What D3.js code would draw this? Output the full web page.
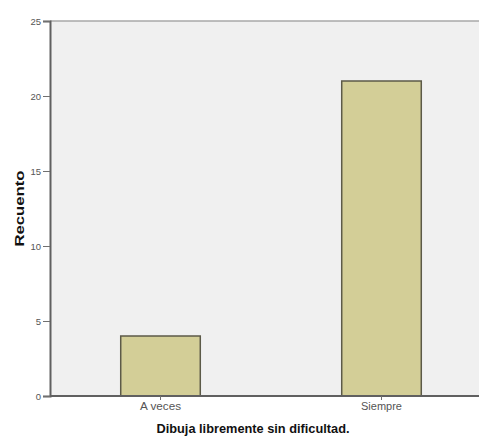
<!DOCTYPE html>
<html><head><meta charset="utf-8">
<script src="https://cdn.jsdelivr.net/npm/d3@7"></script>
<style>body{margin:0;background:#fff}svg{display:block}</style>
</head><body>
<script>
const categories = ["A veces", "Siempre"];
const counts = [4, 21];
const yTicks = [0, 5, 10, 15, 20, 25];
const xTitle = "Dibuja libremente sin dificultad.";
const yTitle = "Recuento";

const W = 479, H = 437;
const mLeft = 50, mTop = 21, mBottom = 396, mRight = 479;
const svg = d3.select("body").append("svg").attr("width", W).attr("height", H);

const y = d3.scaleLinear().domain([0, 25]).range([mBottom, mTop]);
const x = d3.scaleBand().domain(categories).range([mLeft, 492]).paddingInner(0.64).paddingOuter(0.32);

svg.append("rect").attr("x", mLeft).attr("y", mTop).attr("width", mRight - mLeft).attr("height", mBottom - mTop).attr("fill", "#f0f0f0");
svg.append("line").attr("x1", mLeft).attr("x2", mRight).attr("y1", mTop).attr("y2", mTop).attr("stroke", "#a8a8a8").attr("stroke-width", 1.5);

svg.selectAll("rect.bar").data(categories).join("rect").attr("class", "bar")
  .attr("x", d => x(d)).attr("width", x.bandwidth())
  .attr("y", (d, i) => y(counts[i])).attr("height", (d, i) => mBottom - y(counts[i]))
  .attr("fill", "#d3ce97").attr("stroke", "#5c5a48").attr("stroke-width", 1.5);

const ya = svg.append("g").attr("transform", `translate(${mLeft},0)`)
  .call(d3.axisLeft(y).tickValues(yTicks).tickSize(7).tickPadding(2));
ya.select(".domain").attr("stroke", "#606060").attr("stroke-width", 2);
ya.selectAll(".tick line").attr("stroke", "#707070");
ya.selectAll("text").attr("font-family", "Arial, 'Liberation Sans', sans-serif").attr("font-size", 9.5).attr("fill", "#555");

const xa = svg.append("g").attr("transform", `translate(0,${mBottom})`)
  .call(d3.axisBottom(x).tickSize(4).tickPadding(3).tickSizeOuter(0));
xa.select(".domain").attr("stroke", "#606060").attr("stroke-width", 2).attr("d", `M${mLeft},0H${mRight}`);
xa.selectAll(".tick line").attr("stroke", "#707070");
xa.selectAll("text").attr("font-family", "Arial, 'Liberation Sans', sans-serif").attr("font-size", 10).attr("fill", "#555")
  .attr("textLength", 41).attr("lengthAdjust", "spacingAndGlyphs");

svg.append("text").attr("x", 253).attr("y", 433).attr("text-anchor", "middle")
  .attr("font-family", "Arial, 'Liberation Sans', sans-serif").attr("font-weight", "bold").attr("font-size", 12).attr("fill", "#111")
  .attr("textLength", 193).attr("lengthAdjust", "spacingAndGlyphs").text(xTitle);
svg.append("text").attr("transform", `translate(24,${(mTop + mBottom) / 2}) rotate(-90)`).attr("text-anchor", "middle")
  .attr("font-family", "Arial, 'Liberation Sans', sans-serif").attr("font-weight", "bold").attr("font-size", 12).attr("fill", "#111")
  .attr("textLength", 76).attr("lengthAdjust", "spacingAndGlyphs").text(yTitle);
</script>
</body></html>
